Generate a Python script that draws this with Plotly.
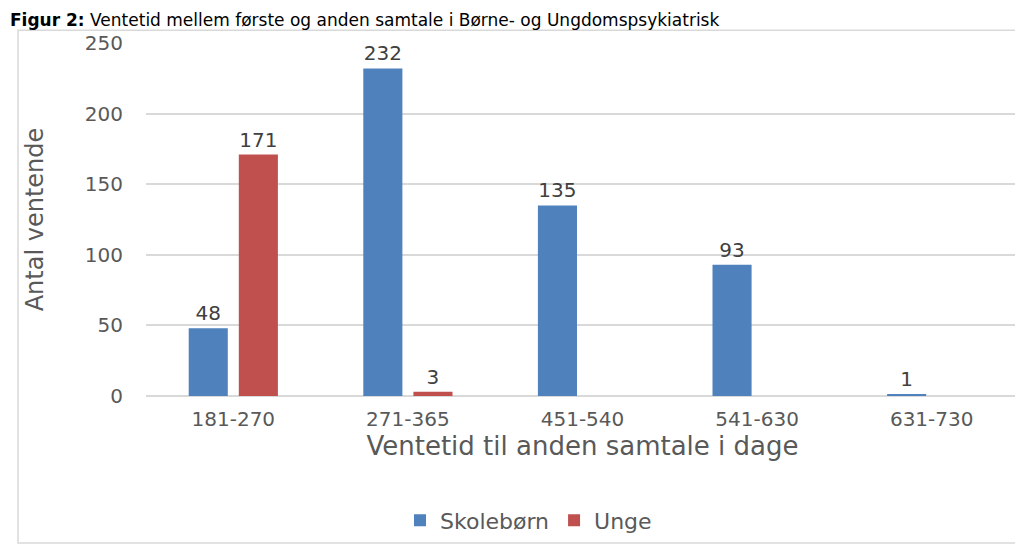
import plotly.graph_objects as go

categories = ["181-270", "271-365", "451-540", "541-630", "631-730"]
skoleborn = [48, 232, 135, 93, 1]
unge = [171, 3, None, None, None]
y_ticks = [0, 50, 100, 150, 200, 250]

title_text = "<b>Figur 2:</b> Ventetid mellem første og anden samtale i Børne- og Ungdomspsykiatrisk"
x_title = "Ventetid til anden samtale i dage"
y_title = "Antal ventende"

FONT = "DejaVu Sans"
BLUE = "#4F81BD"
RED = "#C0504D"
GRID = "#D9D9D9"
TICK = "#595959"
LABEL = "#404040"

def labels(vals):
    return [("" if v is None else str(v)) for v in vals]

fig = go.Figure()
fig.add_trace(go.Bar(
    name="Skolebørn", x=categories, y=skoleborn, marker_color=BLUE,
    text=labels(skoleborn), textposition="outside",
    textfont=dict(family=FONT, size=20, color=LABEL), cliponaxis=False,
))
fig.add_trace(go.Bar(
    name="Unge", x=categories, y=unge, marker_color=RED,
    text=labels(unge), textposition="outside",
    textfont=dict(family=FONT, size=20, color=LABEL), cliponaxis=False,
))

W, H = 1023, 546
L, R, T, B = 138, 12, 35, 151
ph = H - T - B
pw = W - L - R

def px_y(ypix):
    return (H - B - ypix) / ph

def px_x(xpix):
    return (xpix - L) / pw

fig.update_layout(
    template="none",
    width=W, height=H,
    margin=dict(l=L, r=R, t=T, b=B, pad=0),
    paper_bgcolor="white", plot_bgcolor="white",
    barmode="group", bargap=0.426, bargroupgap=0.22,
    font=dict(family=FONT, color=TICK),
    showlegend=True,
    legend=dict(orientation="h", x=px_x(392), xanchor="left", y=px_y(522), yanchor="middle",
                font=dict(family=FONT, size=22, color=TICK), traceorder="normal",
                itemwidth=30, bgcolor="rgba(0,0,0,0)", borderwidth=0),
    xaxis=dict(
        automargin=False,
        showgrid=False, showline=False, zeroline=False, ticks="",
        tickfont=dict(family=FONT, size=20, color=TICK), ticklabelstandoff=9,
        title=dict(text=x_title, font=dict(family=FONT, size=26, color=TICK), standoff=0),
    ),
    yaxis=dict(
        automargin=False,
        range=[0, 250], tickvals=y_ticks, showgrid=True, gridcolor=GRID, gridwidth=2,
        zeroline=True, zerolinecolor=GRID, zerolinewidth=2, showline=False, ticks="",
        tickfont=dict(family=FONT, size=20, color=TICK), ticklabelstandoff=22,
        title=dict(text=y_title, font=dict(family=FONT, size=24, color=TICK), standoff=34),
    ),
    shapes=[dict(type="rect", xref="paper", yref="paper",
                 x0=px_x(10), x1=px_x(1080), y0=px_y(545), y1=px_y(22),
                 line=dict(color=GRID, width=1.5), fillcolor="rgba(0,0,0,0)", layer="below")],
    annotations=[dict(text=title_text, xref="paper", yref="paper", x=px_x(1), y=px_y(0),
                      xanchor="left", yanchor="top", showarrow=False, borderpad=0,
                      font=dict(family=FONT, size=17, color="black"))],
)

fig.write_html("out.html")
